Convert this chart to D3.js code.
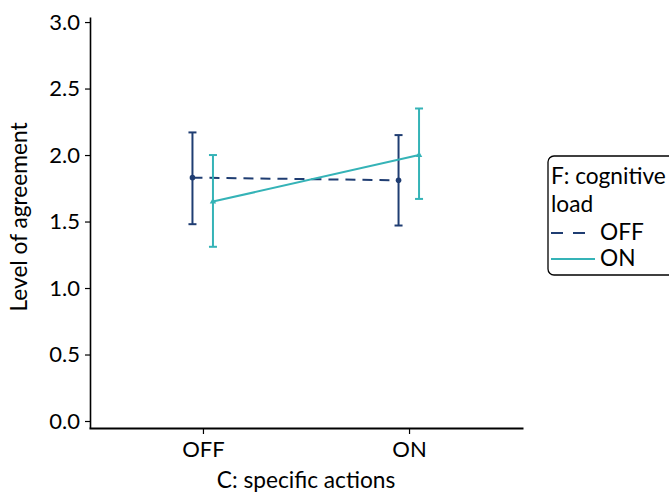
<!DOCTYPE html>
<html>
<head>
<meta charset="utf-8">
<script src="https://cdn.jsdelivr.net/npm/d3@7"></script>
<style>
html,body{margin:0;padding:0;background:#fff;}
text{font-family:Lato, "Open Sans", sans-serif;}
</style>
</head>
<body>
<svg id="chart" width="669" height="494"></svg>
<script>
const categories = ["OFF", "ON"];          // C: specific actions
const seriesNames = ["OFF", "ON"];         // F: cognitive load
const meanOFF = [1.83, 1.81];
const lowOFF  = [1.48, 1.47];
const highOFF = [2.17, 2.15];
const meanON  = [1.65, 2.00];
const lowON   = [1.31, 1.67];
const highON  = [2.00, 2.35];
const yTicks  = [0, 0.5, 1.0, 1.5, 2.0, 2.5, 3.0];

const colors = {OFF: "#1f3d72", ON: "#35b3b7"};
const FS = 22;
const FT = 22.7;

const svg = d3.select("#chart");
const x = d3.scalePoint().domain(categories).range([89, 523]).padding(0.553);
const y = d3.scaleLinear().domain([-0.0526, 3.038]).range([428, 17]);

// y axis
const yAxis = svg.append("g").attr("transform", "translate(90,0)")
  .call(d3.axisLeft(y).tickValues(yTicks).tickFormat(d3.format(".1f")).tickSize(5).tickSizeOuter(0).tickPadding(5));
yAxis.select(".domain").attr("stroke", "#000").attr("stroke-width", 1.6);
yAxis.selectAll(".tick line").attr("stroke", "#000").attr("stroke-width", 1.2);
yAxis.selectAll(".tick text").attr("font-size", FS).attr("fill", "#000").style("font-family", "Lato");

// x axis
const xAxis = svg.append("g").attr("transform", "translate(0,428)")
  .call(d3.axisBottom(x).tickSize(6).tickSizeOuter(0).tickPadding(7));
xAxis.select(".domain").attr("stroke", "#000").attr("stroke-width", 2);
xAxis.selectAll(".tick line").attr("stroke", "#000").attr("stroke-width", 1.2);
xAxis.selectAll(".tick text").attr("font-size", FS).attr("fill", "#000").style("font-family", "Lato");

// axis titles
svg.append("text").attr("x", 306).attr("y", 488).attr("text-anchor", "middle")
  .attr("font-size", FT).text("C: specific actions");
svg.append("text").attr("transform", "translate(27,217) rotate(-90)").attr("text-anchor", "middle")
  .attr("font-size", FT).text("Level of agreement");

const series = [
  {name: "OFF", mean: meanOFF, low: lowOFF, high: highOFF, dx: -10.5, dash: "10,7"},
  {name: "ON",  mean: meanON,  low: lowON,  high: highON,  dx: 10,   dash: null}
];

series.forEach(s => {
  const col = colors[s.name];
  const pts = categories.map((c, i) => ({x: x(c) + s.dx, m: s.mean[i], lo: s.low[i], hi: s.high[i]}));
  // line
  svg.append("path").datum(pts)
    .attr("d", d3.line().x(d => d.x).y(d => y(d.m)))
    .attr("fill", "none").attr("stroke", col).attr("stroke-width", 2)
    .attr("stroke-dasharray", s.dash);
  // error bars
  const g = svg.append("g");
  pts.forEach(p => {
    g.append("line").attr("x1", p.x).attr("x2", p.x).attr("y1", y(p.lo)).attr("y2", y(p.hi))
      .attr("stroke", col).attr("stroke-width", 2);
    [p.lo, p.hi].forEach(v => {
      g.append("line").attr("x1", p.x - 4).attr("x2", p.x + 4).attr("y1", y(v)).attr("y2", y(v))
        .attr("stroke", col).attr("stroke-width", 2);
    });
    if (s.name === "OFF") {
      g.append("circle").attr("cx", p.x).attr("cy", y(p.m)).attr("r", 2.8).attr("fill", col);
    } else {
      g.append("path").attr("d", d3.symbol(d3.symbolTriangle, 18)())
        .attr("transform", `translate(${p.x},${y(p.m)})`).attr("fill", col);
    }
  });
});

// legend
const lg = svg.append("g");
lg.append("rect").attr("x", 548).attr("y", 156).attr("width", 140).attr("height", 119)
  .attr("rx", 6).attr("fill", "#fff").attr("stroke", "#000").attr("stroke-width", 1.3);
lg.append("text").attr("x", 551).attr("y", 184).attr("font-size", FT).text("F: cognitive");
lg.append("text").attr("x", 551).attr("y", 212).attr("font-size", FT).text("load");
seriesNames.forEach((n, i) => {
  const yy = 233 + i * 26;
  lg.append("line").attr("x1", 551).attr("x2", 595).attr("y1", yy).attr("y2", yy)
    .attr("stroke", colors[n]).attr("stroke-width", 2)
    .attr("stroke-dasharray", n === "OFF" ? "12,10" : null);
  lg.append("text").attr("x", 600).attr("y", yy + 7).attr("font-size", FT).text(n);
});
</script>
</body>
</html>
